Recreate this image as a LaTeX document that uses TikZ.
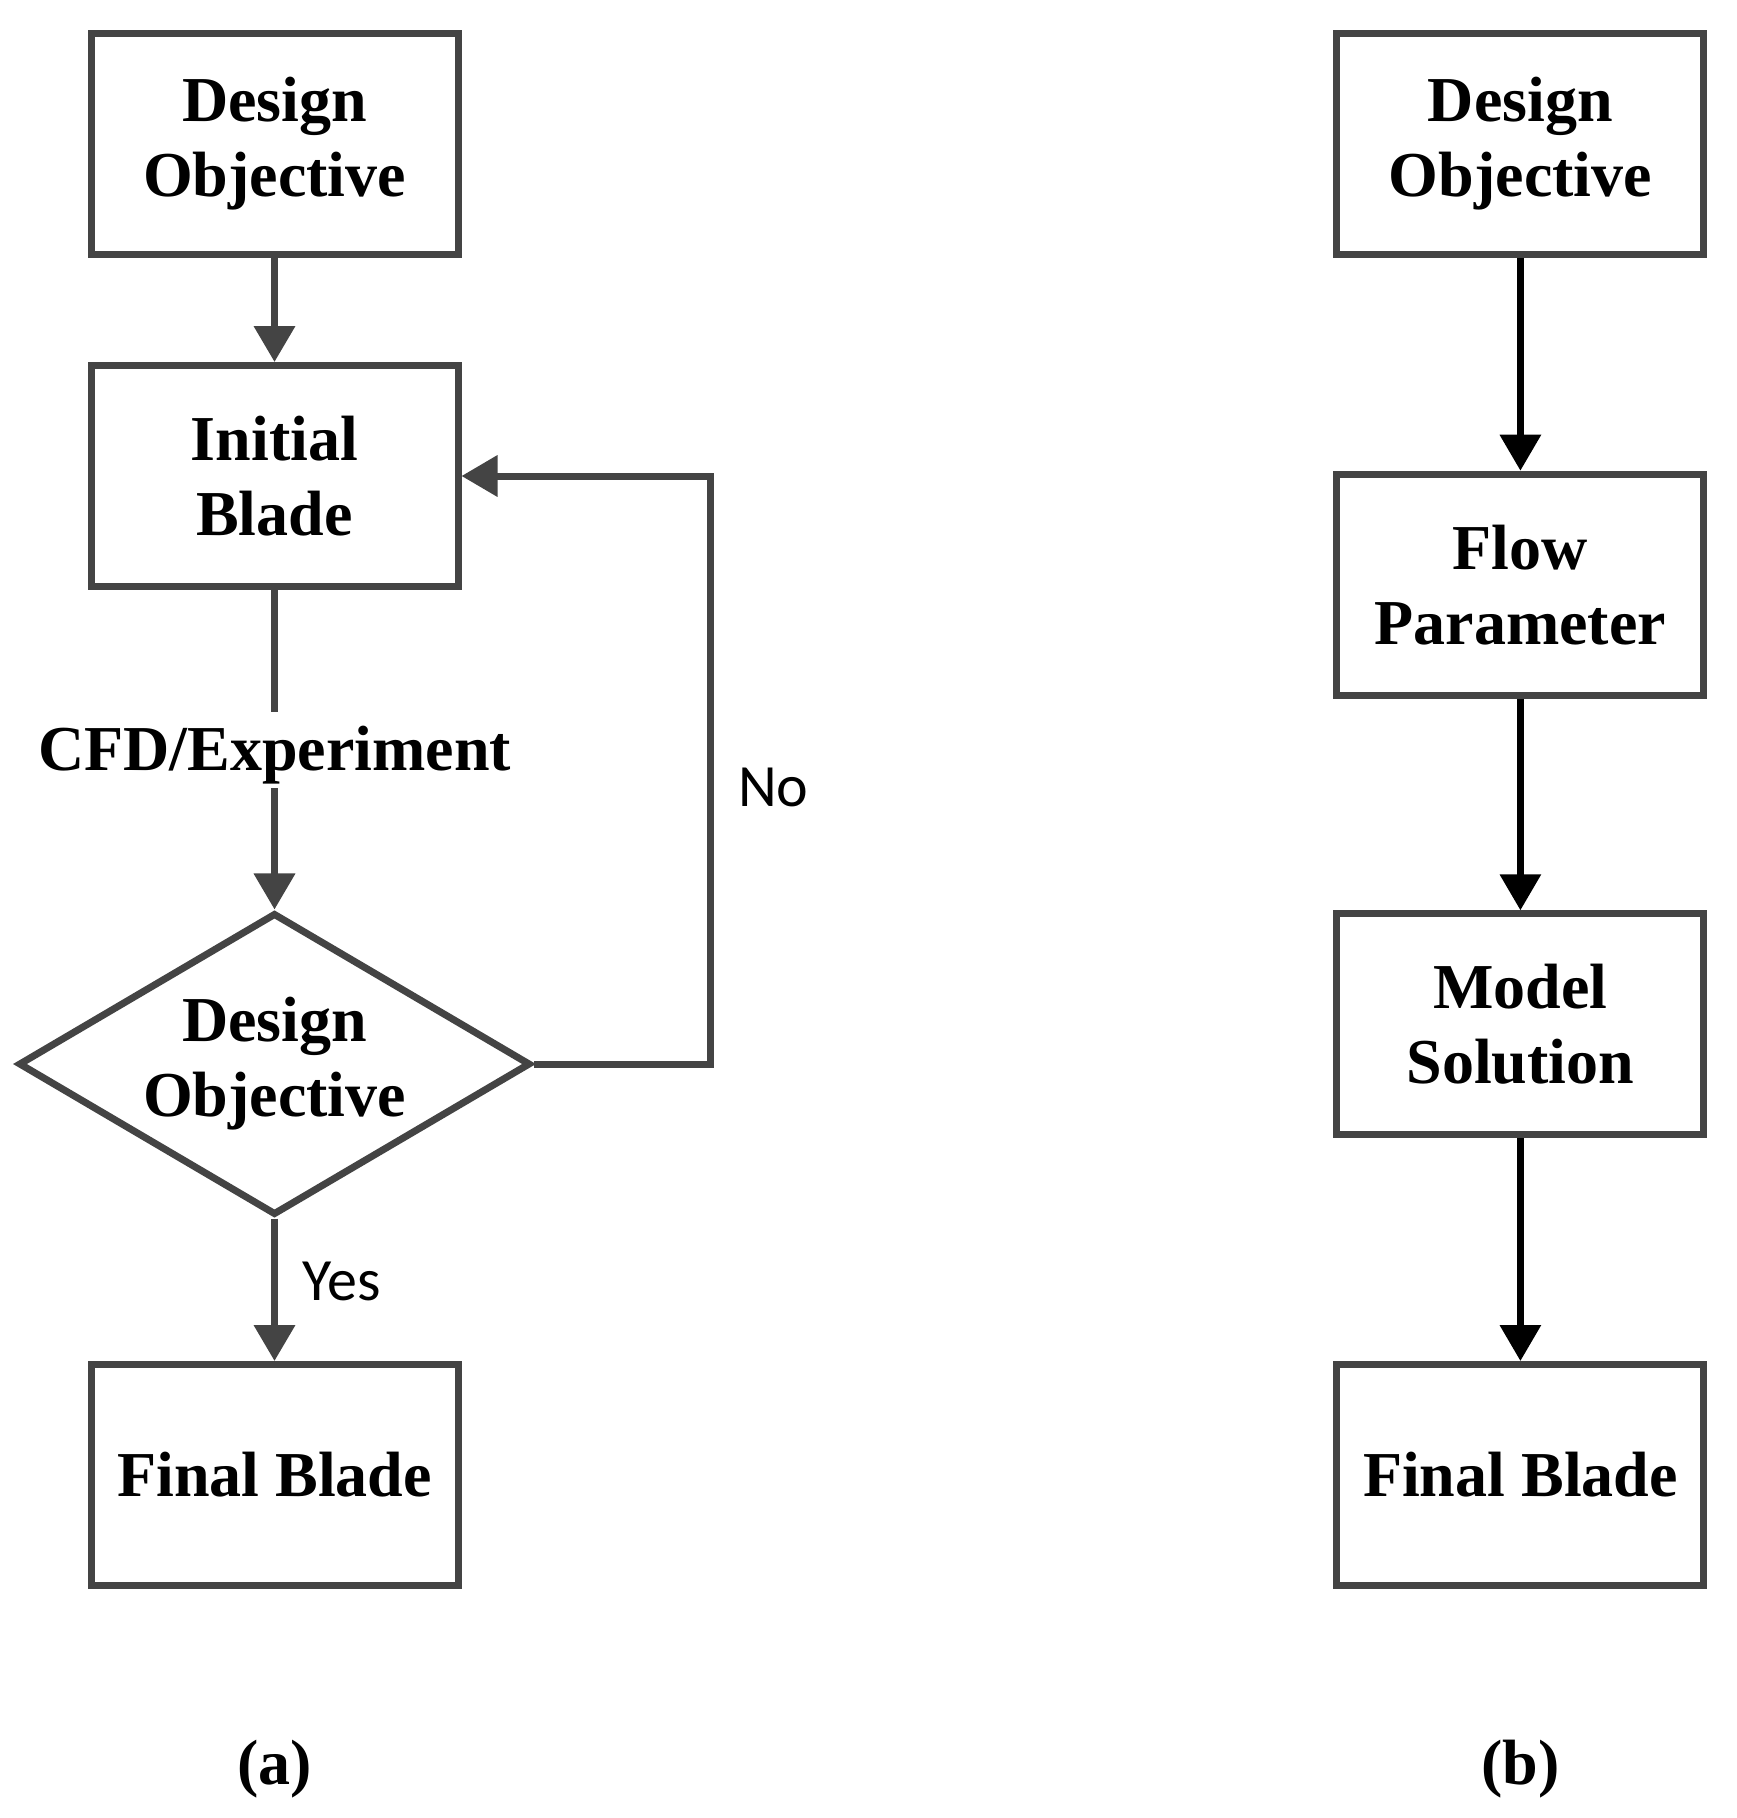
\documentclass[tikz,border=0pt]{standalone}
\usepackage{fontspec}
\setmainfont{Liberation Serif}
\newfontfamily\lblfont{Carlito}
\usetikzlibrary{arrows.meta,shapes.geometric}
\definecolor{dgray}{RGB}{68,68,68}
\begin{document}
\begin{tikzpicture}[x=1pt,y=-1pt,
  boxnode/.style={draw=dgray, line width=7pt, minimum width=367pt, minimum height=221pt,
    inner sep=0pt, align=center, font=\fontsize{64}{75}\selectfont\bfseries},
  decnode/.style={draw=dgray, diamond, aspect=1.7, line width=7pt, minimum width=512pt, minimum height=302pt,
    inner sep=0pt, align=center, font=\fontsize{64}{75}\selectfont\bfseries},
  garrow/.style={draw=dgray, line width=7pt, -{Triangle[width=40pt,length=36pt]}},
  barrow/.style={draw=black, line width=6.5pt, -{Triangle[width=40pt,length=36pt]}},
  gline/.style={draw=dgray, line width=7pt},
  serlbl/.style={font=\fontsize{64}{75}\selectfont\bfseries, inner sep=0pt},
  sanslbl/.style={font=\fontsize{60}{72}\selectfont\lblfont, inner sep=0pt}
]
\useasboundingbox (0,0) rectangle (1737,1818);
\fill[white] (0,0) rectangle (1737,1818);
% (a)
\node[boxnode] (a1) at (274.5,143.5) {Design\\Objective};
\node[boxnode] (a2) at (274.5,476) {Initial\\Blade};
\node[decnode] (a3) at (274.5,1064) {Design\\Objective};
\node[boxnode] (a4) at (274.5,1475) {Final Blade};
\node[serlbl, anchor=base, text height=58pt, text depth=18pt] (cfd) at (274.5,770) {CFD/Experiment};
\coordinate (c2) at (710,476);
\draw[garrow] (a1) -- (a2);
\draw[gline] (a2) -- (cfd);
\draw[garrow] (cfd) -- (a3);
\draw[garrow] (a3) -- (a4);
\draw[garrow] (a3.east) -| (c2) -- (a2.east);
\node[sanslbl, anchor=base west] (yes) at (302,1300) {Yes};
\node[sanslbl, anchor=base west] (no) at (738,806) {No};
\node[serlbl, anchor=base] (la) at (274.5,1784) {(a)};
% (b)
\node[boxnode] (b1) at (1520.4,143.5) {Design\\Objective};
\node[boxnode] (b2) at (1520.4,584.7) {Flow\\Parameter};
\node[boxnode] (b3) at (1520.4,1024.3) {Model\\Solution};
\node[boxnode] (b4) at (1520.4,1475) {Final Blade};
\draw[barrow] (b1) -- (b2);
\draw[barrow] (b2) -- (b3);
\draw[barrow] (b3) -- (b4);
\node[serlbl, anchor=base] (lb) at (1520.4,1784) {(b)};
\end{tikzpicture}
\end{document}
